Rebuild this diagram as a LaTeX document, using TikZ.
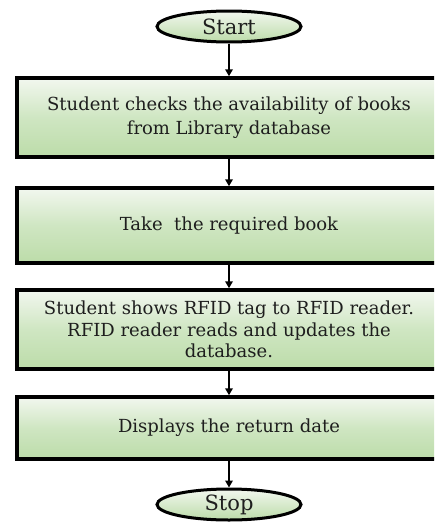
\documentclass[tikz,border=0pt]{standalone}
\usepackage{fontspec}
\setmainfont{DejaVu Serif}
\usetikzlibrary{shapes.geometric,arrows.meta}
\definecolor{txt}{HTML}{1E1E1E}
\definecolor{gtop}{HTML}{F2F7EF}
\definecolor{gmid}{HTML}{CFE6C2}
\definecolor{gbot}{HTML}{BCDCA9}
\tikzset{
  stepbox/.style={draw=black, line width=3.5pt, rectangle, minimum width=424pt,
    top color=gtop, bottom color=gbot, middle color=gmid,
    align=center, text=txt, font=\fontsize{18}{24}\selectfont, inner sep=0pt},
  term/.style={draw=black, line width=3pt, ellipse, minimum width=144pt, minimum height=31pt,
    top color=gtop, bottom color=gbot, text=txt, font=\fontsize{21}{24}\selectfont, inner sep=0pt},
  flow/.style={line width=1.8pt, -{Triangle[length=7pt,width=7.5pt]}}
}
\begin{document}
\begin{tikzpicture}[x=1pt,y=-1pt]
\useasboundingbox (0,0) rectangle (434,522);
\clip (0,0) rectangle (434,522);
\fill[white] (0,0) rectangle (434,522);
\node[term] (start) at (229,26.5) {Start};
\node[stepbox, minimum height=79pt] (b1) at (229,117.5) {Student checks the availability of books\\from Library database};
\node[stepbox, minimum height=75pt] (b2) at (229,225.5) {Take\ \ the required book};
\node[stepbox, minimum height=79pt, font=\fontsize{18}{21.5}\selectfont] (b3) at (229,329.5) {Student shows RFID tag to RFID reader.\\RFID reader reads and updates the\\database.};
\node[stepbox, minimum height=62pt] (b4) at (229,428) {Displays the return date};
\node[term] (stop) at (229,504.5) {Stop};
\draw[flow] (start) -- (b1);
\draw[flow] (b1) -- (b2);
\draw[flow] (b2) -- (b3);
\draw[flow] (b3) -- (b4);
\draw[flow] (b4) -- (stop);
\end{tikzpicture}
\end{document}
